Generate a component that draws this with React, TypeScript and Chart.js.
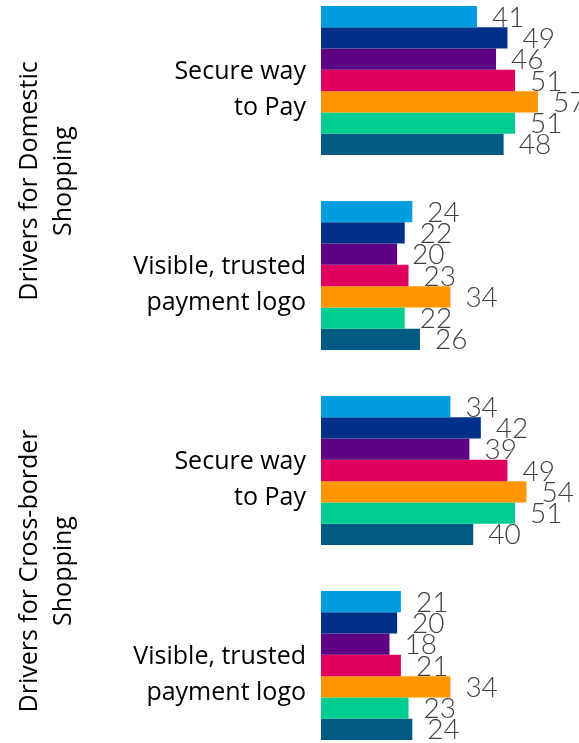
import React, { useEffect, useRef } from "react";
import { Chart, registerables } from "chart.js";

Chart.register(...registerables);

const categories: string[][] = [
  ["Secure way", "to Pay"],
  ["Visible, trusted", "payment logo"],
  ["Secure way", "to Pay"],
  ["Visible, trusted", "payment logo"],
];

const groupLabels: string[][] = [
  ["Drivers for Domestic", "Shopping"],
  ["Drivers for Cross-border", "Shopping"],
];

const seriesNames = ["Series 1", "Series 2", "Series 3", "Series 4", "Series 5", "Series 6", "Series 7"];
const seriesColors = ["#009EE0", "#003087", "#5F0183", "#E0005E", "#FF9600", "#00CE91", "#005A82"];

const domesticSecure = [41, 49, 46, 51, 57, 51, 48];
const domesticLogo = [24, 22, 20, 23, 34, 22, 26];
const crossSecure = [34, 42, 39, 49, 54, 51, 40];
const crossLogo = [21, 20, 18, 21, 34, 23, 24];

const categoryValues = [domesticSecure, domesticLogo, crossSecure, crossLogo];

const valueLabelPlugin = {
  id: "valueLabels",
  afterDatasetsDraw(chart: any) {
    const ctx = chart.ctx;
    ctx.save();
    ctx.font = "300 28px Lato, Roboto, sans-serif";
    ctx.fillStyle = "#404040";
    ctx.textAlign = "left";
    ctx.textBaseline = "middle";
    chart.data.datasets.forEach((ds: any, di: number) => {
      const meta = chart.getDatasetMeta(di);
      meta.data.forEach((bar: any, i: number) => {
        ctx.fillText(String(ds.data[i]), bar.x + 15, bar.y + 1);
      });
    });
    ctx.restore();
  },
};

const groupLabelPlugin = {
  id: "groupLabels",
  afterDraw(chart: any) {
    const ctx = chart.ctx;
    const y = chart.scales.y;
    ctx.save();
    ctx.font = "25px 'Open Sans', sans-serif";
    ctx.fillStyle = "#000000";
    ctx.textAlign = "center";
    ctx.textBaseline = "alphabetic";
    groupLabels.forEach((lines, g) => {
      const cy = (y.getPixelForValue(g * 2) + y.getPixelForValue(g * 2 + 1)) / 2 + 3;
      ctx.save();
      ctx.translate(0, cy);
      ctx.rotate(-Math.PI / 2);
      lines.forEach((line, li) => {
        ctx.fillText(line, 0, 37 + li * 34);
      });
      ctx.restore();
    });
    ctx.restore();
  },
};

export default function App() {
  const ref = useRef<HTMLCanvasElement>(null);
  useEffect(() => {
    if (!ref.current) return;
    const datasets = seriesNames.map((name, s) => ({
      label: name,
      data: categoryValues.map((vals) => vals[s]),
      backgroundColor: seriesColors[s],
      borderWidth: 0,
      barPercentage: 1,
      categoryPercentage: 0.764,
    }));
    const chart = new Chart(ref.current, {
      type: "bar",
      data: { labels: categories, datasets },
      options: {
        indexAxis: "y",
        animation: false,
        responsive: false,
        layout: { padding: 0 },
        plugins: { legend: { display: false }, tooltip: { enabled: false } },
        scales: {
          x: { display: false, min: 0, max: 67.8 },
          y: {
            grid: { display: false, drawTicks: false },
            border: { display: false },
            afterFit: (s: any) => {
              s.width = 321;
              s.paddingTop = 0;
              s.paddingBottom = 0;
            },
            ticks: {
              padding: 15,
              labelOffset: 9,
              color: "#000000",
              font: { family: "'Open Sans', sans-serif", size: 25, lineHeight: 1.44 },
            },
          },
        },
      },
      plugins: [valueLabelPlugin, groupLabelPlugin],
    });
    return () => chart.destroy();
  }, []);
  return (
    <div style={{ position: "fixed", left: 0, top: 0, width: 579, height: 743, overflow: "hidden", background: "#fff" }}>
      <div style={{ position: "absolute", left: 0, top: -17, width: 579, height: 780 }}>
        <canvas ref={ref} width={579} height={780} style={{ display: "block" }} />
      </div>
    </div>
  );
}
